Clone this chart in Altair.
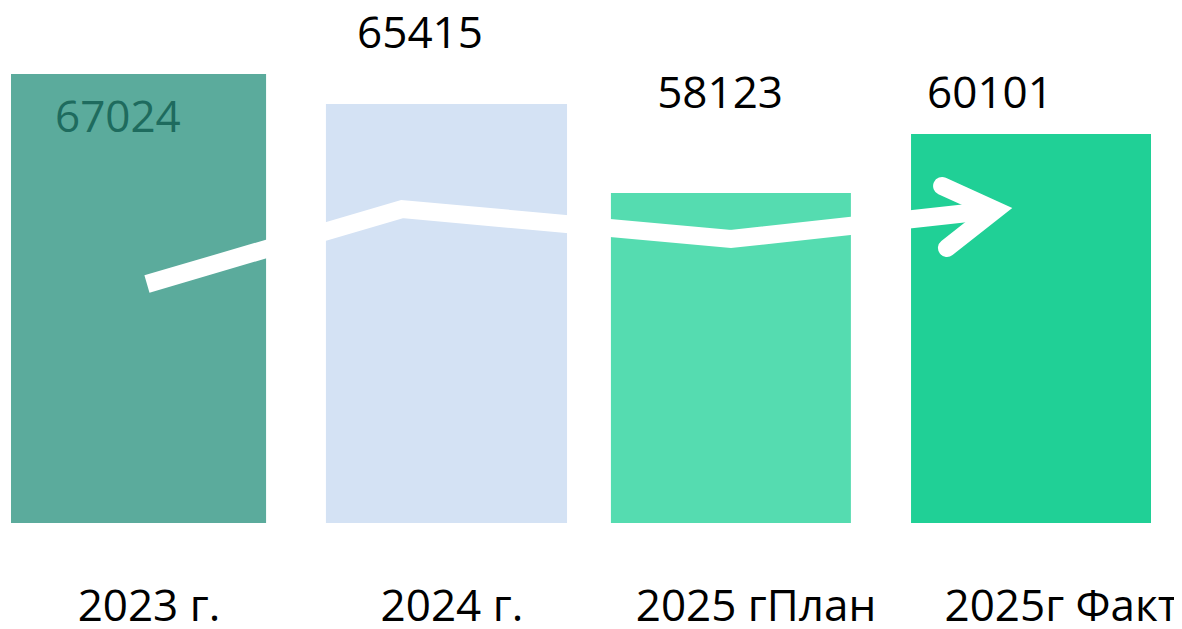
import altair as alt
import pandas as pd

# ---- data ----
categories = ["2023 г.", "2024 г.", "2025 гПлан", "2025г Факт"]
values = [67024, 65415, 58123, 60101]
# drawn bar lengths (the picture's bars are not proportional to the labels), 0-100 scale
bar_lengths = [89.8, 83.8, 66.0, 77.8]
bar_colors = ["#5BAB9C", "#D4E2F4", "#55DCB0", "#20D096"]
label_colors = ["#1E6B5E", "#000000", "#000000", "#000000"]

# decorative trend arrow (slot units along x, same 0-100 scale along y)
trend_x = [0.477, 1.372, 2.526, 3.453]
trend_y = [47.8, 62.8, 56.8, 62.6]
head_x = [3.267, 3.453, 3.284]
head_y = [67.4, 62.6, 55.0]

# ---- layout (slot units along x) ----
bar_start = [0.0, 1.105, 2.105, 3.158]
bar_end = [0.895, 1.951, 2.947, 4.0]
value_label_x = [0.375, 1.435, 2.488, 3.435]
value_label_y = [78.2, 95.0, 83.0, 83.0]
cat_label_x = [0.484, 1.547, 2.614, 3.686]
cat_label_y = -19.5

FONT = "Open Sans"
W, H = 1166, 613

bars_df = pd.DataFrame({"cat": categories, "len": bar_lengths, "color": bar_colors,
                        "x0": bar_start, "x1": bar_end})
vals_df = pd.DataFrame({"txt": [str(v) for v in values], "x": value_label_x,
                        "y": value_label_y, "color": label_colors})
cats_df = pd.DataFrame({"txt": categories, "x": cat_label_x, "y": [cat_label_y] * 4})
trend_df = pd.DataFrame({"x": trend_x, "y": trend_y, "o": list(range(len(trend_x)))})
head_df = pd.DataFrame({"x": head_x, "y": head_y, "o": list(range(len(head_x)))})

yscale = alt.Scale(domain=[0, 100], range=[515, 15])
xq = alt.Scale(domain=[0, 4], range=[3, 1143])

bars = alt.Chart(bars_df).mark_rect().encode(
    x=alt.X("x0:Q", axis=None, scale=xq),
    x2="x1:Q",
    y=alt.Y("len:Q", axis=None, scale=yscale),
    y2=alt.datum(0),
    color=alt.Color("color:N", scale=None),
)

trend = alt.Chart(trend_df).mark_line(
    color="white", strokeWidth=18, strokeCap="butt", strokeJoin="miter"
).encode(
    x=alt.X("x:Q", axis=None, scale=xq),
    y=alt.Y("y:Q", axis=None, scale=yscale),
    order="o:Q",
)

head = alt.Chart(head_df).mark_line(
    color="white", strokeWidth=18, strokeCap="round", strokeJoin="miter"
).encode(
    x=alt.X("x:Q", axis=None, scale=xq),
    y=alt.Y("y:Q", axis=None, scale=yscale),
    order="o:Q",
)

vals = alt.Chart(vals_df).mark_text(
    font=FONT, fontSize=44, baseline="alphabetic", align="center"
).encode(
    x=alt.X("x:Q", axis=None, scale=xq),
    y=alt.Y("y:Q", axis=None, scale=yscale),
    text="txt:N",
    color=alt.Color("color:N", scale=None),
)

cats = alt.Chart(cats_df).mark_text(
    font=FONT, fontSize=44, baseline="alphabetic", align="center", color="black"
).encode(
    x=alt.X("x:Q", axis=None, scale=xq),
    y=alt.Y("y:Q", axis=None, scale=yscale),
    text="txt:N",
)

chart = alt.layer(bars, trend, head, vals, cats).properties(
    width=W, height=H, padding=0, autosize=alt.AutoSizeParams(type="none"),
    background="white",
).configure_view(stroke=None)

chart.save("out.html", embed_options={"renderer": "svg", "actions": False})
